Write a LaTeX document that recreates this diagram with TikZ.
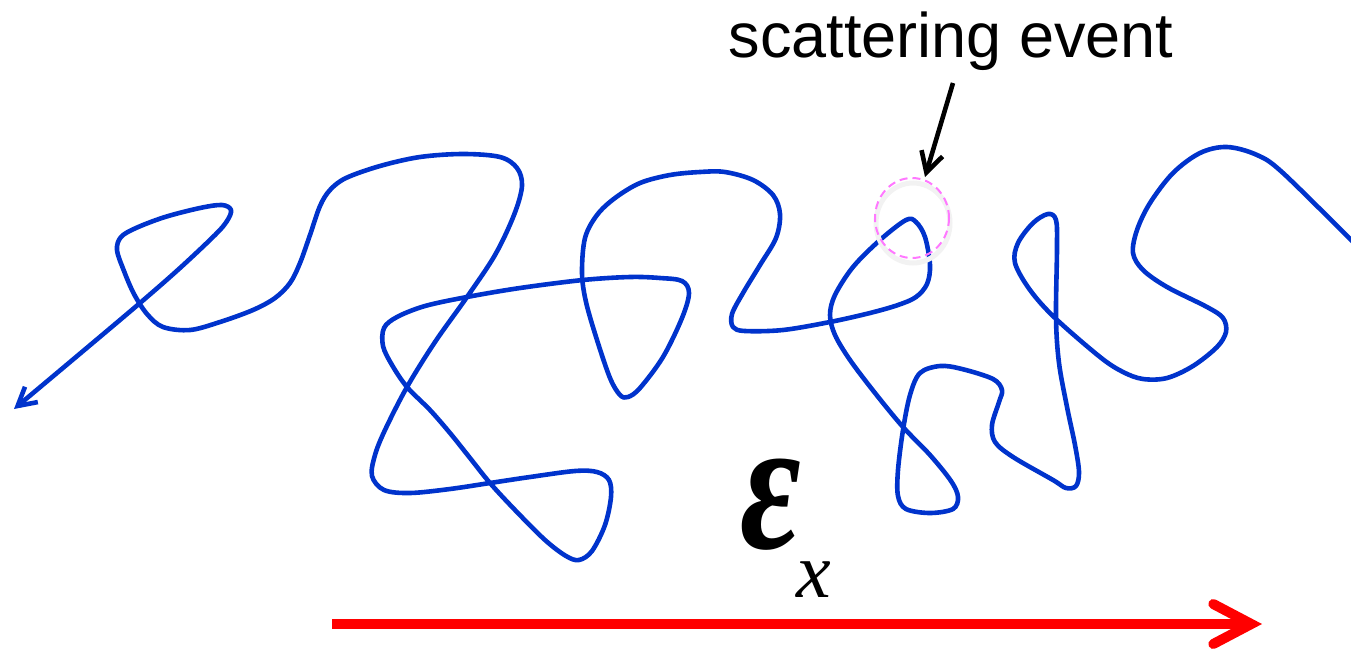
\documentclass[tikz,border=0pt]{standalone}
\usepackage{fontspec}
\setmainfont{Liberation Sans}
\newfontfamily\timesf{Liberation Serif}
\usetikzlibrary{arrows.meta}
\definecolor{pathblue}{RGB}{0,51,204}
\definecolor{eventpink}{RGB}{255,120,255}
\tikzset{
  walk/.style={draw=pathblue, line width=4.6pt, line join=round, line cap=round},
  fieldarrow/.style={draw=red, line width=10pt, -{Straight Barb[length=38pt,width=40pt,line cap=round]}},
  labelarrow/.style={draw=black, line width=4.6pt, -{Straight Barb[length=20pt,width=22pt]}},
  eventring/.style={draw=eventpink, line width=2pt, dash pattern=on 8pt off 5pt},
}
\begin{document}
\begin{tikzpicture}[x=1pt,y=-1pt]
\useasboundingbox (0,0) rectangle (1351,648);
% random walk
\draw[walk, -{Straight Barb[length=18pt,width=20pt]}] plot[smooth, tension=0.55] coordinates {
(1353,242) (1283,173) (1257,155) (1227,147) (1200,153) (1173,173) (1150,203) (1137,230) (1133,253) (1143,270) (1167,287) (1207,307) (1223,318) (1226,332) (1217,347) (1193,366) (1167,378) (1143,379) (1123,372) (1100,357) (1055,318) (1030,290) (1015,263) (1018,243) (1033,223) (1048,214) (1056,220) (1057,247) (1056,318) (1059,363) (1067,407) (1075,445) (1079,472) (1076,486) (1066,488) (1053,480) (1013,457) (995,442) (992,425) (999,402) (1002,390) (993,379) (962,369) (940,366) (920,373) (910,395) (903,430) (898,470) (898,496) (906,509) (930,513) (953,509) (958,497) (951,481) (930,455) (903,427) (875,393) (850,360) (835,335) (830,315) (835,295) (853,267) (880,240) (906,220) (916,222) (925,237) (930,265) (927,284) (916,297) (898,305) (870,313) (830,322) (783,330) (745,331) (733,327) (732,314) (743,293) (760,265) (776,238) (780,214) (773,195) (753,180) (725,172) (700,172) (670,175) (640,183) (615,198) (597,215) (585,238) (582,273) (586,302) (597,340) (610,378) (620,395) (628,397) (640,388) (663,357) (682,318) (689,293) (682,281) (660,278) (630,277) (583,280) (520,288) (467,297) (425,306) (397,317) (384,328) (383,346) (392,365) (407,387) (430,410) (450,433) (470,458) (490,483) (515,510) (545,540) (566,556) (579,560) (592,551) (605,525) (611,497) (609,480) (597,472) (575,471) (530,477) (490,483) (450,489) (410,493) (384,490) (372,476) (375,455) (385,430) (407,387) (435,342) (467,297) (495,255) (514,215) (522,186) (517,168) (500,157) (463,154) (420,157) (380,166) (346,178) (330,190) (320,206) (310,235) (300,263) (290,283) (275,298) (253,310) (220,322) (190,330) (163,327) (147,314) (134,294) (124,271) (117,250) (121,237) (136,228) (165,217) (200,208) (222,205) (231,210) (227,221) (215,235) (180,268) (140,303) (76,357) (14,409)};
% scattering event marker
\draw[gray!10, line width=5pt] (913,223) ellipse [x radius=37pt, y radius=40pt];
\draw[eventring] (912,218) ellipse [x radius=37pt, y radius=40pt];
% label
\node[anchor=base, inner sep=0pt, font=\fontsize{63}{70}\selectfont] (lbl) at (951,57) {scattering event};
\coordinate (lblfoot) at (953,83);
\coordinate (event) at (925,177);
\draw[labelarrow] (lblfoot) -- (event);
% field
\node[anchor=base west, inner sep=0pt, font=\timesf\bfseries\itshape\fontsize{190}{190}\selectfont] (eps) at (740,548) {\scalebox{0.78}[1]{ε}};
\node[anchor=base west, inner sep=0pt, font=\timesf\itshape\fontsize{78}{80}\selectfont] (sub) at (796,597) {x};
\coordinate (fstart) at (332,624);
\coordinate (fend) at (1262,624);
\draw[fieldarrow] (fstart) -- (fend);
\end{tikzpicture}
\end{document}
